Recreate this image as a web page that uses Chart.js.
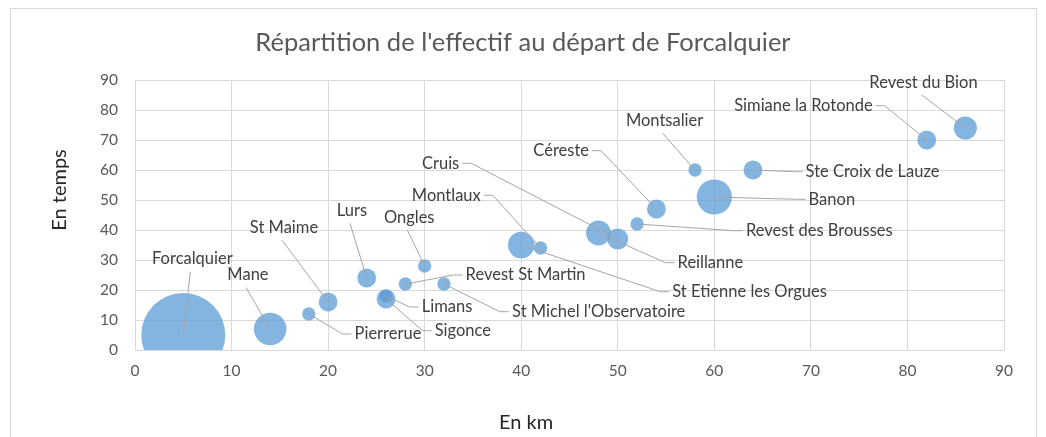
<!DOCTYPE html>
<html>
<head>
<meta charset="utf-8">
<script src="https://cdn.jsdelivr.net/npm/chart.js@4.4.1/dist/chart.umd.min.js"></script>
<style>
  html, body { margin: 0; padding: 0; background: #ffffff; }
  #wrap { position: relative; width: 1046px; height: 437px; }
  canvas { display: block; }
</style>
</head>
<body>
<div id="wrap"><canvas id="c" width="1046" height="437"></canvas></div>
<script>
// ---------- DATA ----------
const communes = [
  "Forcalquier", "Mane", "Pierrerue", "St Maime", "Lurs", "Sigonce", "Limans",
  "Ongles", "Revest St Martin", "St Michel l'Observatoire", "St Etienne les Orgues",
  "Montlaux", "Reillanne", "Cruis", "Revest des Brousses", "Céreste", "Montsalier",
  "Banon", "Ste Croix de Lauze", "Simiane la Rotonde", "Revest du Bion"
];
const distanceKm = [5, 14, 18, 20, 24, 26, 26, 30, 28, 32, 40, 42, 48, 50, 52, 54, 58, 60, 64, 82, 86];
const tempsMin   = [5, 7, 12, 16, 24, 17, 18, 28, 22, 22, 35, 34, 39, 37, 42, 47, 60, 51, 60, 70, 74];
const effectif   = [80, 12, 2, 4, 4, 4, 2, 2, 2, 2, 8, 2, 7, 5, 2, 4, 2, 14, 4, 4, 6];
const xTicks = [0, 10, 20, 30, 40, 50, 60, 70, 80, 90];
const yTicks = [0, 10, 20, 30, 40, 50, 60, 70, 80, 90];

const chartTitle = "Répartition de l'effectif au départ de Forcalquier";
const xTitle = "En km";
const yTitle = "En temps";

// ---------- LABEL LAYOUT (data-unit anchors of label centres, leader side) ----------
const labelAnchorX = [5.94, 11.7, 26.2, 15.43, 22.47, 33.95, 32.32, 28.4, 40.45, 48.02, 63.65,
                      32.24, 59.59, 31.65, 70.87, 44.14, 54.85, 72.17, 76.38, 69.23, 81.66];
const labelAnchorY = [30.33, 25, 5.33, 40.77, 46.43, 6.43, 14.33, 44.23, 25, 12.77, 19.43,
                      51.57, 29.1, 62.23, 39.77, 66.43, 76.43, 50.23, 59.43, 81.43, 89.23];
const labelSide = ['b', 'b', 'l', 'b', 'b', 'l', 'l', 'b', 'l', 'l', 'l',
                   'r', 'l', 'r', 'l', 'r', 'b', 'l', 'l', 'r', 'b'];

// ---------- STYLE ----------
const FONT = "Lato, 'Open Sans', sans-serif";
const MAX_R = 42;
const maxEff = Math.max(...effectif);

const points = distanceKm.map((x, i) => ({ x: x, y: tempsMin[i], r: MAX_R * Math.sqrt(effectif[i] / maxEff) }));

const decorPlugin = {
  id: 'decor',
  beforeDraw(chart) {
    const ctx = chart.ctx;
    ctx.save();
    ctx.fillStyle = '#ffffff';
    ctx.fillRect(0, 0, chart.width, chart.height);
    ctx.strokeStyle = '#d9d9d9';
    ctx.lineWidth = 1;
    ctx.strokeRect(10.5, 8.5, 1026, 460);
    ctx.restore();
  },
  afterDraw(chart) {
    const ctx = chart.ctx;
    ctx.save();
    ctx.fillStyle = '#262626';
    ctx.font = "20px " + FONT;
    ctx.textAlign = 'center';
    ctx.textBaseline = 'middle';
    ctx.fillText(xTitle, 526, 423);
    ctx.translate(60, 190);
    ctx.rotate(-Math.PI / 2);
    ctx.fillText(yTitle, 0, 0);
    ctx.restore();
  }
};

const labelPlugin = {
  id: 'bubbleLabels',
  afterDatasetsDraw(chart) {
    const ctx = chart.ctx;
    const xs = chart.scales.x, ys = chart.scales.y;
    const meta = chart.getDatasetMeta(0);
    ctx.save();
    ctx.font = "16.5px " + FONT;
    ctx.textBaseline = 'middle';
    ctx.textAlign = 'center';
    const h = 17;
    communes.forEach((name, i) => {
      const el = meta.data[i];
      const bx = el.x, by = el.y;
      const px = xs.getPixelForValue(labelAnchorX[i]);
      const py = ys.getPixelForValue(labelAnchorY[i]);
      const w = ctx.measureText(name).width;
      const left = px - w / 2, right = px + w / 2;
      ctx.strokeStyle = '#a6a6a6';
      ctx.lineWidth = 1;
      ctx.beginPath();
      const side = labelSide[i];
      if (side === 'b') {
        ctx.moveTo(px - 2, py + h / 2 + 4);
        ctx.lineTo(bx, by);
      } else if (side === 'l') {
        ctx.moveTo(left - 3, py);
        ctx.lineTo(left - 12, py);
        ctx.lineTo(bx, by);
      } else {
        ctx.moveTo(right + 3, py);
        ctx.lineTo(right + 12, py);
        ctx.lineTo(bx, by);
      }
      ctx.stroke();
      ctx.fillStyle = '#404040';
      ctx.fillText(name, px, py);
    });
    ctx.restore();
  }
};

new Chart(document.getElementById('c'), {
  type: 'bubble',
  data: {
    datasets: [{
      label: 'Effectif',
      data: points,
      backgroundColor: 'rgba(91,155,213,0.75)',
      borderColor: 'rgba(91,155,213,0.0)',
      borderWidth: 0,
      hoverBorderWidth: 0
    }]
  },
  options: {
    responsive: false,
    animation: false,
    devicePixelRatio: 1,
    layout: { padding: { top: 0, right: 40, left: 40, bottom: 0 } },
    plugins: {
      legend: { display: false },
      tooltip: { enabled: true },
      title: {
        display: true,
        text: chartTitle,
        color: '#595959',
        font: { family: FONT, size: 25.5, weight: 'normal', lineHeight: 1.2 },
        padding: { top: 27.7, bottom: 21.7 }
      }
    },
    scales: {
      x: {
        type: 'linear',
        min: 0, max: 90,
        afterBuildTicks(scale) { scale.ticks = xTicks.map(v => ({ value: v })); },
        afterFit(scale) { scale.height = 87; },
        grid: { color: '#d9d9d9', lineWidth: 1, drawTicks: false },
        border: { color: '#d9d9d9', width: 1 },
        ticks: { color: '#595959', font: { family: FONT, size: 15.5 }, padding: 12, maxRotation: 0 }
      },
      y: {
        type: 'linear',
        min: 0, max: 90,
        afterBuildTicks(scale) { scale.ticks = yTicks.map(v => ({ value: v })); },
        afterFit(scale) { scale.width = 95; },
        grid: { color: '#d9d9d9', lineWidth: 1, drawTicks: false },
        border: { color: '#d9d9d9', width: 1 },
        ticks: { color: '#595959', font: { family: FONT, size: 15.5 }, padding: 17 }
      }
    }
  },
  plugins: [decorPlugin, labelPlugin]
});
</script>
</body>
</html>
